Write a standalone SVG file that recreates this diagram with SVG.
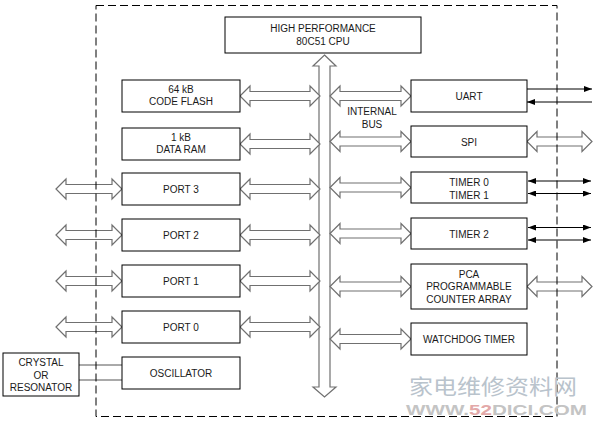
<svg xmlns="http://www.w3.org/2000/svg" width="598" height="423" viewBox="0 0 598 423">
<defs>
<style>
.box{fill:#fff;stroke:#000;stroke-width:1}
.t{font-family:"Liberation Sans",Arial,sans-serif;font-size:10px;fill:#1a1a1a;text-anchor:middle}
.ha{fill:#fff;stroke:#707070;stroke-width:1.2;stroke-linejoin:miter}
.thin{stroke:#000;stroke-width:1;fill:none}
.border{fill:none;stroke:#000;stroke-width:1;stroke-dasharray:8 4}
.xl{stroke:#555;stroke-width:1;fill:none}
</style>
<marker id="ah" viewBox="0 0 8 6" refX="8" refY="3" markerWidth="8" markerHeight="6" markerUnits="userSpaceOnUse" orient="auto-start-reverse">
<path d="M0,0 L8,3 L0,6 Z" fill="#000"/>
</marker>
</defs>
<rect width="598" height="423" fill="#fff"/>

<g id="connectors">
<path class="ha" d="M324.5,55 L336,66 L330,66 L330,387 L336,387 L324.5,397 L313,387 L319,387 L319,66 L313,66 Z"/>
<path class="ha" d="M240,96 l10,-10 v5.5 h60 v-5.5 l10,10 l-10,10 v-5.5 h-60 v5.5 Z"/>
<path class="ha" d="M240,144 l10,-10 v5.5 h60 v-5.5 l10,10 l-10,10 v-5.5 h-60 v5.5 Z"/>
<path class="ha" d="M240,189 l10,-10 v5.5 h60 v-5.5 l10,10 l-10,10 v-5.5 h-60 v5.5 Z"/>
<path class="ha" d="M240,235 l10,-10 v5.5 h60 v-5.5 l10,10 l-10,10 v-5.5 h-60 v5.5 Z"/>
<path class="ha" d="M240,281 l10,-10 v5.5 h60 v-5.5 l10,10 l-10,10 v-5.5 h-60 v5.5 Z"/>
<path class="ha" d="M240,327 l10,-10 v5.5 h60 v-5.5 l10,10 l-10,10 v-5.5 h-60 v5.5 Z"/>
<path class="ha" d="M330,96 l10,-10 v5.5 h61 v-5.5 l10,10 l-10,10 v-5.5 h-61 v5.5 Z"/>
<path class="ha" d="M330,141.5 l10,-10 v5.5 h61 v-5.5 l10,10 l-10,10 v-5.5 h-61 v5.5 Z"/>
<path class="ha" d="M330,187.5 l10,-10 v5.5 h61 v-5.5 l10,10 l-10,10 v-5.5 h-61 v5.5 Z"/>
<path class="ha" d="M330,233.5 l10,-10 v5.5 h61 v-5.5 l10,10 l-10,10 v-5.5 h-61 v5.5 Z"/>
<path class="ha" d="M330,286.5 l10,-10 v5.5 h61 v-5.5 l10,10 l-10,10 v-5.5 h-61 v5.5 Z"/>
<path class="ha" d="M330,339 l10,-10 v5.5 h61 v-5.5 l10,10 l-10,10 v-5.5 h-61 v5.5 Z"/>
<path class="ha" d="M56,189 l10,-10 v5.5 h46 v-5.5 l10,10 l-10,10 v-5.5 h-46 v5.5 Z"/>
<path class="ha" d="M56,235 l10,-10 v5.5 h46 v-5.5 l10,10 l-10,10 v-5.5 h-46 v5.5 Z"/>
<path class="ha" d="M56,281 l10,-10 v5.5 h46 v-5.5 l10,10 l-10,10 v-5.5 h-46 v5.5 Z"/>
<path class="ha" d="M56,327 l10,-10 v5.5 h46 v-5.5 l10,10 l-10,10 v-5.5 h-46 v5.5 Z"/>
<path class="ha" d="M527,141.5 l10,-10 v5.5 h45 v-5.5 l10,10 l-10,10 v-5.5 h-45 v5.5 Z"/>
<path class="ha" d="M527,286.5 l10,-10 v5.5 h45 v-5.5 l10,10 l-10,10 v-5.5 h-45 v5.5 Z"/>
<line class="thin" x1="527" y1="89" x2="592" y2="89" marker-end="url(#ah)"/>
<line class="thin" x1="592" y1="102" x2="527" y2="102" marker-end="url(#ah)"/>
<line class="thin" x1="528" y1="181" x2="591" y2="181" marker-start="url(#ah)" marker-end="url(#ah)"/>
<line class="thin" x1="528" y1="193.5" x2="591" y2="193.5" marker-start="url(#ah)" marker-end="url(#ah)"/>
<line class="thin" x1="528" y1="227.5" x2="591" y2="227.5" marker-start="url(#ah)" marker-end="url(#ah)"/>
<line class="thin" x1="528" y1="240" x2="591" y2="240" marker-start="url(#ah)" marker-end="url(#ah)"/>
<line class="xl" x1="79" y1="365" x2="122" y2="365"/>
<line class="xl" x1="79" y1="380" x2="122" y2="380"/>
</g>

<rect class="border" x="96" y="5.5" width="461" height="411"/>

<g id="cpu"><rect class="box" x="225" y="17" width="196" height="36"/>
<text class="t" x="323" y="32">HIGH PERFORMANCE</text><text class="t" x="323" y="45">80C51 CPU</text></g>
<g id="bus-label"><text class="t" x="372" y="115">INTERNAL</text><text class="t" x="372" y="128">BUS</text></g>

<g id="code-flash"><rect class="box" x="122" y="80" width="118" height="32"/>
<text class="t" x="181" y="93">64 kB</text><text class="t" x="181" y="105">CODE FLASH</text></g>
<g id="data-ram"><rect class="box" x="122" y="128" width="118" height="32"/>
<text class="t" x="181" y="140.5">1 kB</text><text class="t" x="181" y="152.5">DATA RAM</text></g>
<g id="port3"><rect class="box" x="122" y="173" width="118" height="32"/><text class="t" x="181" y="193">PORT 3</text></g>
<g id="port2"><rect class="box" x="122" y="219" width="118" height="32"/><text class="t" x="181" y="239">PORT 2</text></g>
<g id="port1"><rect class="box" x="122" y="265" width="118" height="32"/><text class="t" x="181" y="285">PORT 1</text></g>
<g id="port0"><rect class="box" x="122" y="311" width="118" height="32"/><text class="t" x="181" y="331">PORT 0</text></g>
<g id="oscillator"><rect class="box" x="122" y="357" width="118" height="32"/><text class="t" x="181" y="377">OSCILLATOR</text></g>
<g id="crystal"><rect class="box" x="3" y="353" width="76" height="43"/>
<text class="t" x="41" y="366">CRYSTAL</text><text class="t" x="41" y="379">OR</text><text class="t" x="41" y="391">RESONATOR</text></g>

<g id="uart"><rect class="box" x="411" y="80" width="116" height="32"/><text class="t" x="469" y="100">UART</text></g>
<g id="spi"><rect class="box" x="411" y="126" width="116" height="31"/><text class="t" x="469" y="145.5">SPI</text></g>
<g id="timer01"><rect class="box" x="411" y="172" width="116" height="31"/>
<text class="t" x="469" y="186">TIMER 0</text><text class="t" x="469" y="198.5">TIMER 1</text></g>
<g id="timer2"><rect class="box" x="411" y="218" width="116" height="31"/><text class="t" x="469" y="237.5">TIMER 2</text></g>
<g id="pca"><rect class="box" x="411" y="264" width="116" height="45"/>
<text class="t" x="469" y="278">PCA</text><text class="t" x="469" y="290">PROGRAMMABLE</text><text class="t" x="469" y="302.5">COUNTER ARRAY</text></g>
<g id="watchdog"><rect class="box" x="411" y="323" width="116" height="32"/><text class="t" x="469" y="343">WATCHDOG TIMER</text></g>

<g id="watermark">
<text x="493" y="394" font-family="Noto Sans CJK SC, sans-serif" font-size="21" fill="#b9c3cc" text-anchor="middle" textLength="168" lengthAdjust="spacingAndGlyphs">家电维修资料网</text>
<text x="406" y="415" font-family="Liberation Sans, Arial, sans-serif" font-weight="bold" font-size="14" fill="#c4c4c4" textLength="181" lengthAdjust="spacingAndGlyphs">WWW.<tspan fill="#e3a9a9">52</tspan>DICI.COM</text>
</g>
</svg>
